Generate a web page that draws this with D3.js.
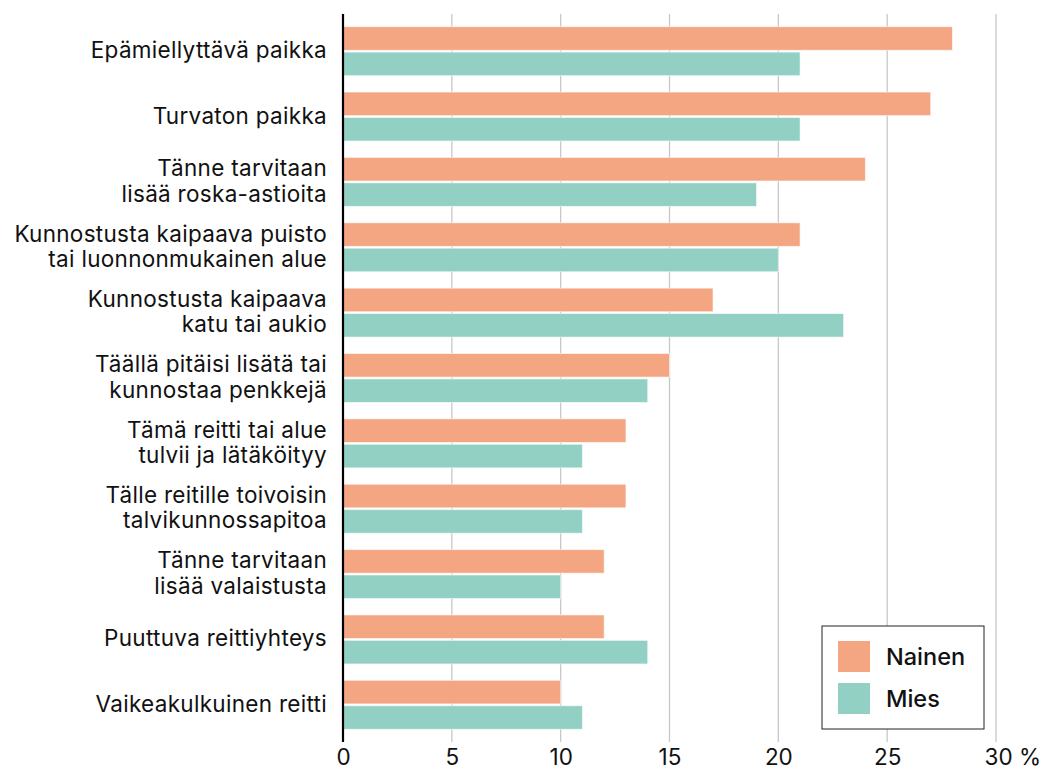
<!DOCTYPE html>
<html>
<head>
<meta charset="utf-8">
<script src="https://cdn.jsdelivr.net/npm/d3@7"></script>
<style>
  body { margin: 0; background: #fff; }
  svg { font-family: Inter, "Noto Sans", sans-serif; }
</style>
</head>
<body>
<div id="chart"></div>
<script>
// categories (two-line labels split with "|")
const categories = [
  "Epämiellyttävä paikka",
  "Turvaton paikka",
  "Tänne tarvitaan|lisää roska-astioita",
  "Kunnostusta kaipaava puisto|tai luonnonmukainen alue",
  "Kunnostusta kaipaava|katu tai aukio",
  "Täällä pitäisi lisätä tai|kunnostaa penkkejä",
  "Tämä reitti tai alue|tulvii ja lätäköityy",
  "Tälle reitille toivoisin|talvikunnossapitoa",
  "Tänne tarvitaan|lisää valaistusta",
  "Puuttuva reittiyhteys",
  "Vaikeakulkuinen reitti"
];
const seriesNames = ["Nainen", "Mies"];
const nainen = [28, 27, 24, 21, 17, 15, 13, 13, 12, 12, 10];
const mies   = [21, 21, 19, 20, 23, 14, 11, 11, 10, 14, 11];
const colors = ["#f4a683", "#93d0c4"];
const xTicks = [0, 5, 10, 15, 20, 25, 30];

const width = 1042, height = 772;
const margin = { top: 14, right: 46, bottom: 30, left: 343 };

const svg = d3.select("#chart").append("svg")
  .attr("width", width)
  .attr("height", height);

const x = d3.scaleLinear()
  .domain([0, 30])
  .range([margin.left, margin.left + 653]);

const y = d3.scaleBand()
  .domain(categories)
  .range([margin.top, height - margin.bottom])
  .paddingInner(0.25)
  .paddingOuter(0.194);

const ySub = d3.scaleBand()
  .domain(seriesNames)
  .range([0, y.bandwidth()])
  .paddingInner(0.07);

// gridlines
svg.append("g")
  .selectAll("line")
  .data(xTicks.filter(d => d > 0))
  .enter().append("line")
  .attr("x1", d => x(d))
  .attr("x2", d => x(d))
  .attr("y1", margin.top)
  .attr("y2", height - margin.bottom)
  .attr("stroke", "#c8c8c8")
  .attr("stroke-width", 1.3);

// bars
const rows = categories.map((c, i) => ({ cat: c, values: [nainen[i], mies[i]] }));

const row = svg.append("g")
  .selectAll("g")
  .data(rows)
  .enter().append("g")
  .attr("transform", d => `translate(0,${y(d.cat)})`);

row.selectAll("rect")
  .data(d => d.values.map((v, j) => ({ key: seriesNames[j], value: v, j })))
  .enter().append("rect")
  .attr("x", x(0))
  .attr("y", d => ySub(d.key))
  .attr("width", d => x(d.value) - x(0))
  .attr("height", ySub.bandwidth())
  .attr("fill", d => colors[d.j])
  .attr("stroke", "#fff")
  .attr("stroke-opacity", 0.6)
  .attr("stroke-width", 1);

// category labels
const fontSize = 22.5;
const label = svg.append("g")
  .selectAll("text")
  .data(categories)
  .enter().append("text")
  .attr("text-anchor", "end")
  .attr("font-size", fontSize)
  .attr("letter-spacing", 0.3)
  .attr("fill", "#111")
  .attr("transform", d => `translate(${margin.left - 16},${y(d) + y.bandwidth() / 2})`);

label.each(function(d) {
  const lines = d.split("|");
  const lh = 25.5;
  const start = -(lines.length - 1) * lh / 2 + 7;
  lines.forEach((t, k) => {
    d3.select(this).append("tspan")
      .attr("x", 0)
      .attr("y", start + k * lh)
      .text(t);
  });
});

// zero axis line
svg.append("line")
  .attr("x1", x(0))
  .attr("x2", x(0))
  .attr("y1", margin.top)
  .attr("y2", height - margin.bottom)
  .attr("stroke", "#000")
  .attr("stroke-width", 2.2);

// x axis tick labels
const xAxis = d3.axisBottom(x)
  .tickValues(xTicks)
  .tickSize(0)
  .tickPadding(0)
  .tickFormat(d => d);

const gx = svg.append("g")
  .attr("transform", `translate(0,${height - margin.bottom})`)
  .call(xAxis);
gx.select(".domain").remove();
gx.selectAll("text")
  .attr("font-size", 22.5)
  .attr("font-family", "Inter, sans-serif")
  .attr("fill", "#111")
  .attr("dy", null)
  .attr("y", 23);
gx.selectAll(".tick").filter(d => d === 30).select("text")
  .append("tspan").text(" %");
gx.selectAll(".tick").filter(d => d === 30).select("text")
  .attr("text-anchor", "start")
  .attr("x", -12);

// legend
const legend = svg.append("g").attr("transform", "translate(822,626)");
legend.append("rect")
  .attr("width", 162)
  .attr("height", 103)
  .attr("fill", "#fff")
  .attr("stroke", "#222")
  .attr("stroke-width", 1);

const item = legend.selectAll("g")
  .data(seriesNames)
  .enter().append("g")
  .attr("transform", (d, i) => `translate(16,${15 + i * 42})`);

item.append("rect")
  .attr("width", 32)
  .attr("height", 31)
  .attr("fill", (d, i) => colors[i]);

item.append("text")
  .attr("x", 48)
  .attr("y", 24)
  .attr("font-size", 23.5)
  .attr("font-weight", 500)
  .attr("fill", "#111")
  .text(d => d);
</script>
</body>
</html>
